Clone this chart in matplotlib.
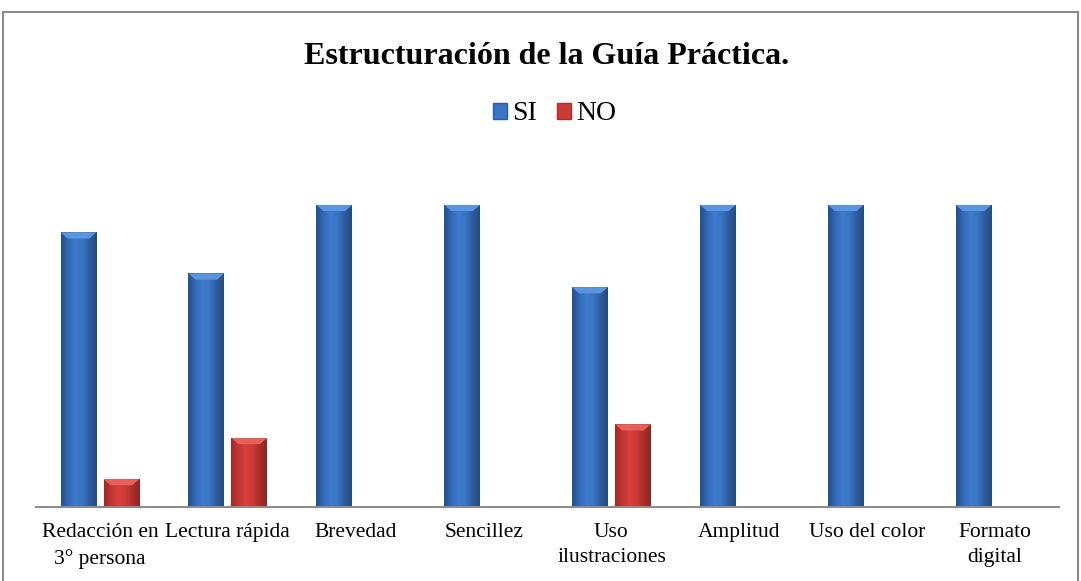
import numpy as np
import matplotlib
matplotlib.use("Agg")
import matplotlib.pyplot as plt
from matplotlib.patches import Rectangle, Patch
from matplotlib.colors import LinearSegmentedColormap

# Data (counts, 22 respondents)
categories = ["Redacción en\n3° persona", "Lectura rápida", "Brevedad", "Sencillez",
              "Uso\nilustraciones", "Amplitud", "Uso del color", "Formato\ndigital"]
si_values = [20, 17, 22, 22, 16, 22, 22, 22]
no_values = [2, 5, 0, 0, 6, 0, 0, 0]

plt.rcParams["font.family"] = ["Liberation Serif", "DejaVu Serif"]

W, H = 1081, 581
fig = plt.figure(figsize=(W / 100, H / 100), dpi=100)

# outer chart border
fig.patches.append(Rectangle((3 / W, -0.01), 1075 / W, 1 - 12 / H + 0.01,
                             transform=fig.transFigure, fill=False,
                             edgecolor="#8c8c8c", linewidth=1.5))

ax = fig.add_axes([36 / W, (H - 506.5) / H, 1023 / W, 329 / H])
ax.set_xlim(-0.5, len(categories) - 0.5)
ax.set_ylim(0, 24)

x = np.arange(len(categories))
width = 0.28
off = 0.168

blue_cmap = LinearSegmentedColormap.from_list(
    "b", ["#24508a", "#3369b3", "#3d7bcc", "#3a74c2", "#2c5e9e", "#234c80"])
red_cmap = LinearSegmentedColormap.from_list(
    "r", ["#9e2a27", "#c23532", "#d8403c", "#cc3a36", "#ad2e2b", "#8f2523"])

grad = np.linspace(0, 1, 64).reshape(1, -1)


def shade_bars(bars, cmap, top_color):
    for b in bars:
        h = b.get_height()
        if h <= 0:
            continue
        x0 = b.get_x()
        w = b.get_width()
        im = ax.imshow(grad, cmap=cmap, aspect="auto", extent=(x0, x0 + w, 0, h),
                       zorder=3)
        im.set_clip_path(b)
        # lighter bevel at the top
        ax.fill([x0, x0 + w, x0 + w * 0.8, x0 + w * 0.2],
                [h, h, h - 0.45, h - 0.45], color=top_color, zorder=4,
                linewidth=0)


bars_si = ax.bar(x - off, si_values, width, color="#3a74c2", zorder=2)
bars_no = ax.bar(x + off, no_values, width, color="#cc3a36", zorder=2)
shade_bars(bars_si, blue_cmap, "#5b95e0")
shade_bars(bars_no, red_cmap, "#e8605a")

for s in ["top", "left", "right"]:
    ax.spines[s].set_visible(False)
ax.spines["bottom"].set_color("#8c8c8c")
ax.spines["bottom"].set_linewidth(1.5)
ax.set_yticks([])
ax.set_xticks(x)
ax.set_xticklabels(categories, fontsize=15.5, linespacing=1.45)
ax.tick_params(axis="x", length=0, pad=12)

fig.text(547 / W, 1 - 57 / H, "Estructuración de la Guía Práctica.",
         ha="center", va="center", fontsize=23, fontweight="bold")

handles = [Patch(facecolor="#3a74c2", edgecolor="#2c5e9e"),
           Patch(facecolor="#cc3a36", edgecolor="#ad2e2b")]
fig.legend(handles, ["SI", "NO"], loc="center", bbox_to_anchor=(0.513, 1 - 114 / H),
           ncol=2, frameon=False, fontsize=20, handlelength=0.5, handleheight=0.5,
           handletextpad=0.2, columnspacing=0.7)

fig.savefig("out.png", dpi=100)
